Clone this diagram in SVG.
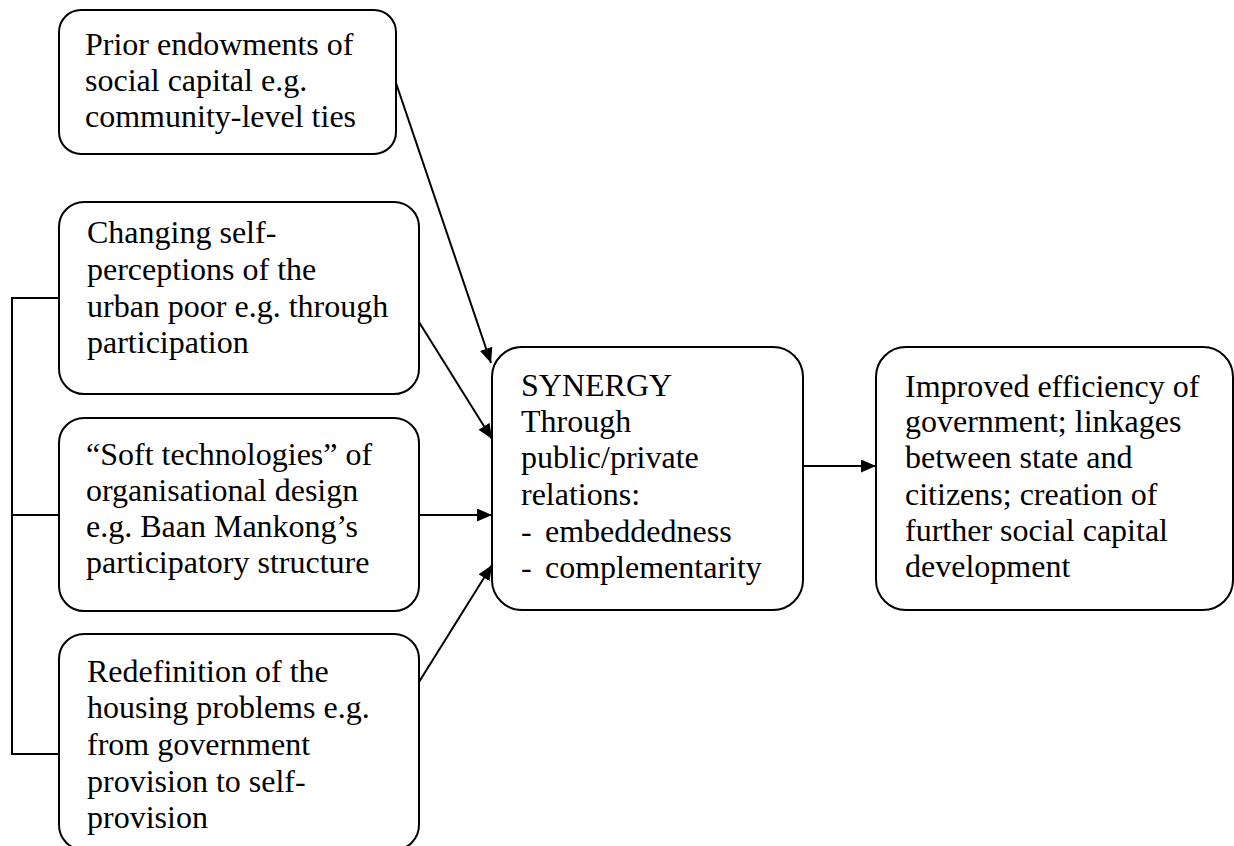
<svg xmlns="http://www.w3.org/2000/svg" width="1234" height="846" viewBox="0 0 1234 846">
<style>
.box{fill:#fff;stroke:#000;stroke-width:2}
.t{font-family:"Liberation Serif","Times New Roman",serif;font-size:32px;fill:#000}
.c{fill:none;stroke:#000;stroke-width:2}
</style>
<defs>
<marker id="ah" markerUnits="userSpaceOnUse" markerWidth="16" markerHeight="14" refX="15" refY="6.5" orient="auto">
<path d="M0,0 L15,6.5 L0,13 z" fill="#000"/>
</marker>
</defs>
<rect width="1234" height="846" fill="#fff"/>
<g id="connectors">
<polyline class="c" points="59,298 12,298 12,754 59,754"/>
<line class="c" x1="12" y1="515" x2="59" y2="515"/>
<line class="c" x1="396" y1="83" x2="491" y2="363" marker-end="url(#ah)"/>
<line class="c" x1="419" y1="322" x2="492" y2="439" marker-end="url(#ah)"/>
<line class="c" x1="419" y1="515" x2="492" y2="515" marker-end="url(#ah)"/>
<line class="c" x1="419" y1="682" x2="492" y2="565" marker-end="url(#ah)"/>
<line class="c" x1="803" y1="466" x2="876" y2="466" marker-end="url(#ah)"/>
</g>
<g id="prior">
<rect class="box" x="59" y="10" width="337" height="144" rx="22"/>
<text class="t" x="85" y="55">Prior endowments of</text>
<text class="t" x="85" y="91">social capital e.g.</text>
<text class="t" x="85" y="127">community-level ties</text>
</g>
<g id="changing">
<rect class="box" x="59" y="202" width="360" height="192" rx="25"/>
<text class="t" x="87" y="243">Changing self-</text>
<text class="t" x="87" y="280">perceptions of the</text>
<text class="t" x="87" y="317">urban poor e.g. through</text>
<text class="t" x="87" y="353">participation</text>
</g>
<g id="soft">
<rect class="box" x="59" y="418" width="360" height="193" rx="25"/>
<text class="t" x="86" y="465">“Soft technologies” of</text>
<text class="t" x="86" y="501">organisational design</text>
<text class="t" x="86" y="537">e.g. Baan Mankong’s</text>
<text class="t" x="86" y="573">participatory structure</text>
</g>
<g id="redefinition">
<rect class="box" x="59" y="634" width="360" height="216" rx="25"/>
<text class="t" x="87" y="682">Redefinition of the</text>
<text class="t" x="87" y="718">housing problems e.g.</text>
<text class="t" x="87" y="755">from government</text>
<text class="t" x="87" y="792">provision to self-</text>
<text class="t" x="87" y="828">provision</text>
</g>
<g id="synergy">
<rect class="box" x="492" y="347" width="311" height="263" rx="30"/>
<text class="t" x="521" y="396">SYNERGY</text>
<text class="t" x="521" y="432">Through</text>
<text class="t" x="521" y="468">public/private</text>
<text class="t" x="521" y="505">relations:</text>
<text class="t" x="521" y="542">-</text>
<text class="t" x="545" y="542">embeddedness</text>
<text class="t" x="521" y="578">-</text>
<text class="t" x="545" y="578">complementarity</text>
</g>
<g id="improved">
<rect class="box" x="876" y="347" width="357" height="263" rx="30"/>
<text class="t" x="905" y="397">Improved efficiency of</text>
<text class="t" x="905" y="432">government; linkages</text>
<text class="t" x="905" y="468">between state and</text>
<text class="t" x="905" y="505">citizens; creation of</text>
<text class="t" x="905" y="541">further social capital</text>
<text class="t" x="905" y="577">development</text>
</g>
</svg>
